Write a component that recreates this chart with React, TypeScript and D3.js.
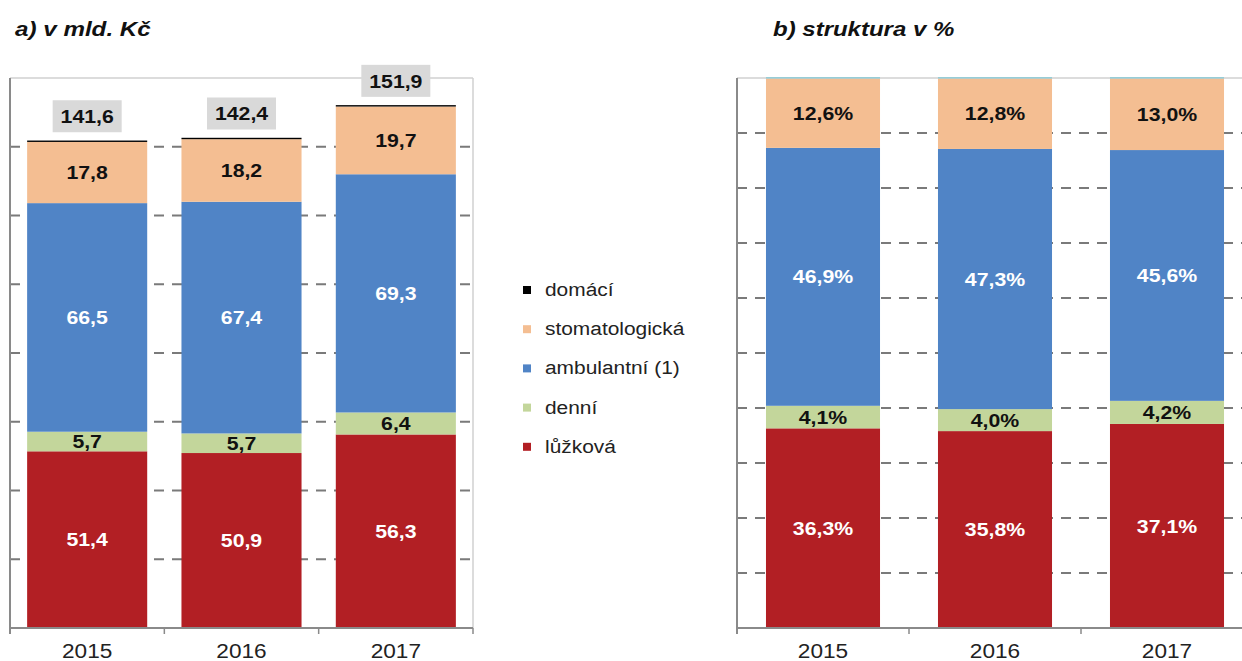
import React from "react";
import * as d3 from "d3";

const years = ["2015", "2016", "2017"];
const seriesKeys = ["luzkova", "denni", "ambulantni", "stomatologicka", "domaci"];
const seriesLabels = ["lůžková", "denní", "ambulantní (1)", "stomatologická", "domácí"];
const seriesColors = ["#b21f24", "#c3d69b", "#5084c6", "#f4be92", "#000000"];
const pctTopColor = "#8ccbd6";
const labelDark = [false, true, false, true, true];

// a) v mld. Kč
const luzkova = [51.4, 50.9, 56.3];
const denni = [5.7, 5.7, 6.4];
const ambulantni = [66.5, 67.4, 69.3];
const stomatologicka = [17.8, 18.2, 19.7];
const domaci = [0.2, 0.2, 0.2];
const totals = [141.6, 142.4, 151.9];

// b) struktura v %
const luzkovaPct = [36.3, 35.8, 37.1];
const denniPct = [4.1, 4.0, 4.2];
const ambulantniPct = [46.9, 47.3, 45.6];
const stomatologickaPct = [12.6, 12.8, 13.0];
const domaciPct = [0.1, 0.1, 0.1];

const leftTicks = [0, 20, 40, 60, 80, 100, 120, 140, 160];
const rightTicks = [0, 10, 20, 30, 40, 50, 60, 70, 80, 90, 100];

const FONT = "'Liberation Sans', Arial, sans-serif";
const fmt = (v: number) => d3.format(".1f")(v).replace(".", ",");

function buildRows(arrs: number[][]) {
  return years.map((y, i) => {
    const r: any = { year: y };
    seriesKeys.forEach((k, j) => (r[k] = arrs[j][i]));
    return r;
  });
}

function SText(props: any) {
  const { x, y, sx = 1.12, children, ...rest } = props;
  return (
    <text transform={`translate(${x},${y}) scale(${sx},1)`} {...rest}>
      {children}
    </text>
  );
}

function Panel(props: {
  x0: number;
  x1: number;
  clipRight: boolean;
  max: number;
  ticks: number[];
  rows: any[];
  pad: number;
  pct: boolean;
}) {
  const { x0, x1, max, ticks, rows, pad, pct } = props;
  const top = 78;
  const bottom = 628;
  const x = d3.scaleBand<string>().domain(years).range([x0, x1]).paddingInner(pad).paddingOuter(pad / 2);
  const y = d3.scaleLinear().domain([0, max]).range([bottom, top]);
  const stacked = d3.stack<any>().keys(seriesKeys)(rows);
  const bw = x.bandwidth();
  const boundaries = years.map((yr) => (x(yr) as number) - (x.step() * pad) / 2).concat([x1]);
  const xr = props.clipRight ? 1300 : x1;
  return (
    <g>
      {/* top & right border */}
      <line x1={x0} x2={xr} y1={y(max)} y2={y(max)} stroke="#d0d0d0" strokeWidth={1.5} />
      {!props.clipRight && <line x1={x1} x2={x1} y1={top} y2={bottom} stroke="#d0d0d0" strokeWidth={1.5} />}
      {/* gridlines */}
      {ticks
        .filter((t) => t > 0 && t < max)
        .map((t) => (
          <line key={t} x1={x0} x2={xr} y1={y(t)} y2={y(t)} stroke="#7a7a7a" strokeWidth={2} strokeDasharray="10,8" />
        ))}
      {/* bars */}
      {stacked.map((s, si) =>
        s.map((d, i) => {
          const yt = y(d[1]);
          const yb = y(d[0]);
          let h = yb - yt;
          const isTop = si === seriesKeys.length - 1;
          if (isTop) h = Math.max(h, 1.4);
          const fill = isTop && pct ? pctTopColor : seriesColors[si];
          return <rect key={si + "-" + i} x={x(years[i])} y={isTop ? yb - h : yt} width={bw} height={h} fill={fill} />;
        })
      )}
      {/* segment labels */}
      {stacked.slice(0, 4).map((s, si) =>
        s.map((d, i) => {
          const cx = (x(years[i]) as number) + bw / 2;
          const cy = (y(d[0]) + y(d[1])) / 2;
          const v = d[1] - d[0];
          return (
            <SText
              key={"l" + si + i}
              x={cx}
              y={cy}
              sx={1.15}
              dy="0.36em"
              textAnchor="middle"
              fontFamily={FONT}
              fontWeight="bold"
              fontSize={18.5}
              fill={labelDark[si] ? "#111" : "#fff"}
            >
              {fmt(v) + (pct ? "%" : "")}
            </SText>
          );
        })
      )}
      {/* totals */}
      {!pct &&
        totals.map((t, i) => {
          const cx = (x(years[i]) as number) + bw / 2;
          const cy = y(t) - 25;
          return (
            <g key={"t" + i}>
              <rect x={cx - 34.5} y={cy - 16} width={69} height={32} fill="#d9d9d9" />
              <SText x={cx} y={cy} sx={1.15} dy="0.36em" textAnchor="middle" fontFamily={FONT} fontWeight="bold" fontSize={18.5} fill="#111">
                {fmt(t)}
              </SText>
            </g>
          );
        })}
      {/* y axis */}
      <line x1={x0} x2={x0} y1={top} y2={bottom + 6} stroke="#8a8a8a" strokeWidth={2} />
      {/* x axis */}
      <line x1={x0} x2={xr} y1={bottom} y2={bottom} stroke="#8a8a8a" strokeWidth={2} />
      {boundaries.map((b, i) => (
        <line key={"b" + i} x1={b} x2={b} y1={bottom} y2={bottom + 6} stroke="#8a8a8a" strokeWidth={1.5} />
      ))}
      {years.map((yr) => (
        <SText key={yr} x={(x(yr) as number) + bw / 2} y={658} sx={1.16} textAnchor="middle" fontFamily={FONT} fontSize={19.5} fill="#222">
          {yr}
        </SText>
      ))}
    </g>
  );
}

export default function App() {
  const rowsAbs = buildRows([luzkova, denni, ambulantni, stomatologicka, domaci]);
  const rowsPct = buildRows([luzkovaPct, denniPct, ambulantniPct, stomatologickaPct, domaciPct]);
  const legendOrder = [4, 3, 2, 1, 0];
  return (
    <svg width={1242} height={661} style={{ position: "absolute", left: 0, top: 0, background: "#fff" }}>
      <SText x={15} y={36} sx={1.21} fontFamily={FONT} fontWeight="bold" fontStyle="italic" fontSize={20} fill="#111">
        a) v mld. Kč
      </SText>
      <SText x={773} y={36} sx={1.2} fontFamily={FONT} fontWeight="bold" fontStyle="italic" fontSize={20} fill="#111">
        b) struktura v %
      </SText>
      <Panel x0={10} x1={473} clipRight={false} max={160} ticks={leftTicks} rows={rowsAbs} pad={0.222} pct={false} />
      <Panel x0={737} x1={1253} clipRight={true} max={100} ticks={rightTicks} rows={rowsPct} pad={0.337} pct={true} />
      {legendOrder.map((si, k) => (
        <g key={"lg" + si}>
          <rect x={523} y={286 + k * 39.2} width={8} height={8} fill={seriesColors[si]} />
          <SText x={545} y={296 + k * 39.2} sx={1.1} fontFamily={FONT} fontSize={19} fill="#222">
            {seriesLabels[si]}
          </SText>
        </g>
      ))}
    </svg>
  );
}
